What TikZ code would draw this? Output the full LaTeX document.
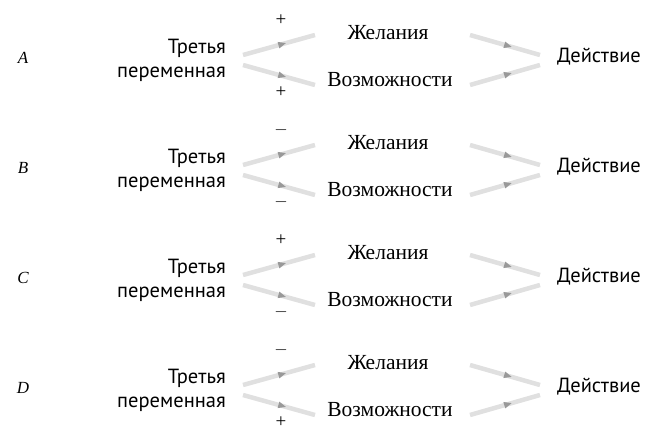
\documentclass[tikz,border=0pt]{standalone}
\usepackage{fontspec}
\setmainfont{Liberation Serif}
\newfontfamily\ptsans{PT Sans}
\usetikzlibrary{decorations.markings,arrows.meta}
\tikzset{
 conn/.style={line width=4.5pt,draw=black!12,postaction={decorate},
  decoration={markings,mark=at position 0.6 with {\arrow[black!40]{Triangle[length=8pt,width=6pt]}}}},
 sans/.style={font=\ptsans\fontsize{20.5}{24}\selectfont,align=right,inner sep=0pt},
 ser/.style={font=\fontsize{21.5}{24}\selectfont},
 sign/.style={font=\fontsize{19}{20}\selectfont}
}
\begin{document}
\begin{tikzpicture}[x=1pt,y=-1pt]
\useasboundingbox (0,0) rectangle (664,444);
\foreach \L/\s/\t [count=\i from 0] in {A/+/+,B/$-$/$-$,C/+/$-$,D/$-$/+}{
 \begin{scope}[yshift=-\i*110pt]
 \node[font=\itshape\fontsize{17}{18}\selectfont] (L\i) at (23,58) {\L};
 \node[sans,anchor=east] (T\i) at (226,60) {Третья\\переменная};
 \node[ser] (W\i) at (388,33) {Желания};
 \node[ser] (V\i) at (390,80) {Возможности};
 \node[sans] (D\i) at (599,57) {Действие};
 \node[sign] (p\i) at (281,20) {\s};
 \node[sign] (q\i) at (281,92) {\t};
 \coordinate (a\i) at (243,55); \coordinate (b\i) at (315,35);
 \coordinate (c\i) at (243,65); \coordinate (d\i) at (315,85);
 \coordinate (e\i) at (470,35); \coordinate (f\i) at (540,55);
 \coordinate (g\i) at (470,85); \coordinate (h\i) at (540,65);
 \draw[conn] (a\i) -- (b\i);
 \draw[conn] (c\i) -- (d\i);
 \draw[conn] (e\i) -- (f\i);
 \draw[conn] (g\i) -- (h\i);
 \end{scope}}
\end{tikzpicture}
\end{document}
